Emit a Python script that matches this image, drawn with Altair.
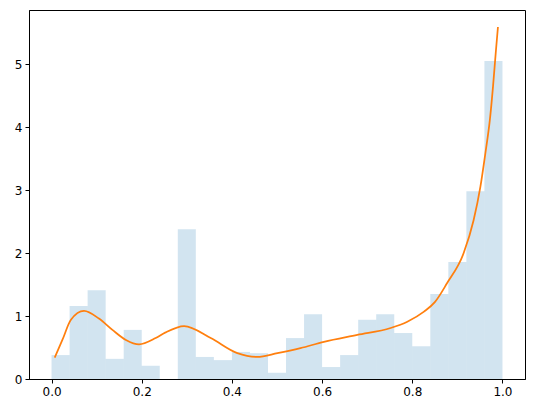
import altair as alt
import pandas as pd

# Histogram (density) bins: left edges, width 0.04
bin_left = [0.00, 0.04, 0.08, 0.12, 0.16, 0.20, 0.24, 0.28, 0.32, 0.36,
            0.40, 0.44, 0.48, 0.52, 0.56, 0.60, 0.64, 0.68, 0.72, 0.76,
            0.80, 0.84, 0.88, 0.92, 0.96]
bin_right = [0.04, 0.08, 0.12, 0.16, 0.20, 0.24, 0.28, 0.32, 0.36, 0.40,
             0.44, 0.48, 0.52, 0.56, 0.60, 0.64, 0.68, 0.72, 0.76, 0.80,
             0.84, 0.88, 0.92, 0.96, 1.00]
density = [0.38, 1.16, 1.41, 0.32, 0.78, 0.21, 0.00, 2.38, 0.35, 0.30,
           0.43, 0.41, 0.10, 0.65, 1.03, 0.19, 0.38, 0.94, 1.03, 0.73,
           0.52, 1.35, 1.86, 2.98, 5.05]

# KDE curve
kde_x = [0.007, 0.024, 0.043, 0.072, 0.105, 0.135, 0.165, 0.194, 0.231, 0.253,
         0.294, 0.353, 0.412, 0.456, 0.501, 0.552, 0.604, 0.678, 0.752, 0.789,
         0.826, 0.850, 0.877, 0.914, 0.936, 0.951, 0.962, 0.972, 0.979, 0.985,
         0.990]
kde_y = [0.34, 0.62, 0.94, 1.08, 0.96, 0.78, 0.62, 0.55, 0.65, 0.74,
         0.84, 0.65, 0.41, 0.35, 0.41, 0.49, 0.59, 0.70, 0.81, 0.91,
         1.07, 1.22, 1.52, 2.00, 2.52, 3.05, 3.58, 4.11, 4.64, 5.17,
         5.59]

bars_df = pd.DataFrame({"x0": bin_left, "x1": bin_right, "d": density})
kde_df = pd.DataFrame({"x": kde_x, "y": kde_y})

xscale = alt.Scale(domain=[-0.05, 1.05], nice=False, zero=False)
yscale = alt.Scale(domain=[0, 5.86], nice=False)

common = dict(title=None, grid=False, domainColor="black", tickColor="black",
              tickSize=4, labelFontSize=12, labelColor="black", labelPadding=3,
              labelFont="DejaVu Sans")
xaxis = alt.Axis(values=[0.0, 0.2, 0.4, 0.6, 0.8, 1.0], format=".1f", **common)
yaxis = alt.Axis(values=[0, 1, 2, 3, 4, 5], format="d", **common)

bars = alt.Chart(bars_df).mark_rect(color="#1f77b4", opacity=0.2).encode(
    x=alt.X("x0:Q", scale=xscale, axis=xaxis),
    x2="x1:Q",
    y=alt.Y("d:Q", scale=yscale, axis=yaxis),
    y2=alt.datum(0),
)

line = alt.Chart(kde_df).mark_line(color="#ff7f0e", strokeWidth=1.75,
                                   interpolate="monotone").encode(
    x=alt.X("x:Q", scale=xscale),
    y=alt.Y("y:Q", scale=yscale),
)

chart = alt.layer(bars, line).properties(
    width=496, height=369,
    autosize=alt.AutoSizeParams(type="none"),
    padding={"left": 21, "top": 2, "right": 1, "bottom": 26},
    background="white",
).configure_view(stroke="black", strokeWidth=1)

chart.save("out.html", embed_options={"renderer": "svg", "actions": False})
